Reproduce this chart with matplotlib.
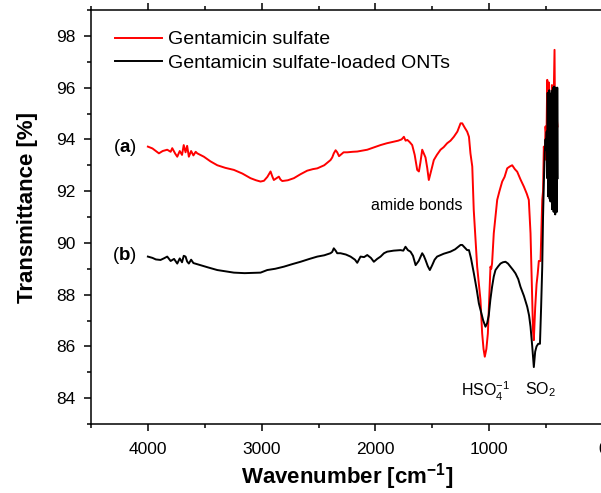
import matplotlib
matplotlib.use("Agg")
import matplotlib.pyplot as plt
from matplotlib.ticker import MultipleLocator

plt.rcParams["font.family"] = ["Liberation Sans", "DejaVu Sans"]
plt.rcParams["mathtext.fontset"] = "custom"
plt.rcParams["mathtext.rm"] = "Liberation Sans"
plt.rcParams["mathtext.it"] = "Liberation Sans:italic"
plt.rcParams["mathtext.bf"] = "Liberation Sans:bold"

# Espectro (a): Gentamicin sulfate
wn_a = [4000, 3960, 3930, 3903, 3870, 3830, 3800, 3786, 3760, 3742, 3720, 3700, 3685,
        3669, 3655, 3640, 3620, 3600, 3580, 3566, 3540, 3508, 3450, 3390, 3320, 3244,
        3170, 3098, 3050, 3010, 2980, 2950, 2922, 2905, 2893, 2870, 2849, 2835, 2819,
        2770, 2717, 2660, 2600, 2550, 2511, 2450, 2395, 2380, 2366, 2350, 2336, 2320,
        2307, 2280, 2248, 2200, 2160, 2120, 2072, 2020, 1955, 1900, 1838, 1800, 1770,
        1750, 1735, 1720, 1700, 1677, 1655, 1633, 1618, 1605, 1589, 1575, 1560, 1545,
        1531, 1515, 1501, 1487, 1460, 1428, 1400, 1370, 1340, 1311, 1280, 1252, 1237,
        1215, 1194, 1178, 1165, 1149, 1136, 1106, 1077, 1062, 1050, 1039, 1025, 1012,
        989, 982, 975, 960, 945, 930, 910, 886, 865, 842, 820, 798, 775, 754, 725, 695,
        670, 652, 637, 622, 615, 608, 596, 584, 574, 564, 549, 534, 527, 520, 512, 505,
        497, 490, 483, 476, 471, 467, 461, 456, 449, 441, 434, 426, 419, 412, 406, 400]
tr_a = [93.72, 93.65, 93.55, 93.46, 93.55, 93.60, 93.52, 93.66, 93.45, 93.33, 93.55,
        93.40, 93.78, 93.50, 93.75, 93.33, 93.55, 93.38, 93.52, 93.46, 93.40, 93.33,
        93.15, 93.00, 92.90, 92.82, 92.68, 92.50, 92.42, 92.37, 92.40, 92.55, 92.76,
        92.55, 92.43, 92.50, 92.56, 92.45, 92.39, 92.42, 92.50, 92.65, 92.79, 92.85,
        92.88, 93.00, 93.20, 93.30, 93.46, 93.58, 93.50, 93.35, 93.40, 93.50, 93.50,
        93.52, 93.53, 93.56, 93.60, 93.68, 93.78, 93.85, 93.91, 93.95, 94.00, 94.10,
        93.95, 93.98, 93.90, 93.78, 93.40, 92.82, 92.76, 93.10, 93.60, 93.45, 93.30,
        92.90, 92.43, 92.70, 92.95, 93.20, 93.40, 93.60, 93.70, 93.85, 93.95, 94.10,
        94.30, 94.62, 94.62, 94.45, 94.30, 94.10, 93.46, 92.95, 91.27, 89.08, 87.80,
        86.50, 85.90, 85.60, 85.90, 86.50, 89.08, 89.00, 89.20, 90.37, 91.00, 91.66,
        92.00, 92.37, 92.55, 92.88, 92.95, 93.00, 92.85, 92.75, 92.45, 92.17, 91.90,
        91.66, 90.37, 87.80, 86.60, 86.24, 87.50, 88.40, 88.80, 89.30, 89.30, 91.66,
        92.00, 93.72, 93.20, 94.50, 94.00, 96.30, 94.50, 96.20, 95.00, 94.00, 95.40,
        94.20, 96.10, 93.70, 95.50, 97.46, 93.00, 92.30, 94.80, 94.50]

# Espectro (b): Gentamicin sulfate-loaded ONTs
wn_b = [4000, 3960, 3930, 3889, 3860, 3830, 3800, 3770, 3742, 3720, 3700, 3685, 3669,
        3655, 3640, 3620, 3600, 3570, 3537, 3470, 3390, 3320, 3244, 3150, 3010, 2951,
        2880, 2805, 2730, 2658, 2580, 2511, 2450, 2395, 2380, 2366, 2350, 2336, 2307,
        2260, 2219, 2180, 2160, 2131, 2100, 2072, 2040, 2014, 1985, 1955, 1925, 1897,
        1840, 1780, 1755, 1736, 1715, 1692, 1670, 1647, 1620, 1589, 1575, 1560, 1540,
        1522, 1501, 1480, 1458, 1400, 1341, 1300, 1252, 1237, 1215, 1194, 1178, 1160,
        1135, 1110, 1091, 1070, 1053, 1033, 1018, 1004, 990, 975, 960, 945, 920, 901,
        880, 857, 835, 813, 790, 769, 745, 725, 695, 666, 650, 637, 622, 608, 596, 584,
        569, 554, 544, 534, 527, 520, 512, 505, 500, 495,
        490, 486, 483, 479, 476, 472, 469, 465, 462, 458, 455, 451, 448, 444, 441, 437,
        434, 430, 427, 423, 420, 416, 413, 409, 405, 402, 398]
tr_b = [89.47, 89.42, 89.36, 89.34, 89.40, 89.47, 89.30, 89.38, 89.20, 89.40, 89.25,
        89.50, 89.47, 89.28, 89.20, 89.35, 89.22, 89.18, 89.14, 89.05, 88.95, 88.90,
        88.85, 88.83, 88.85, 88.95, 89.00, 89.08, 89.18, 89.27, 89.38, 89.47, 89.52,
        89.60, 89.65, 89.79, 89.70, 89.60, 89.60, 89.55, 89.47, 89.35, 89.23, 89.47,
        89.45, 89.53, 89.42, 89.27, 89.38, 89.47, 89.60, 89.66, 89.70, 89.72, 89.70,
        89.85, 89.72, 89.66, 89.50, 89.14, 89.30, 89.60, 89.50, 89.34, 89.10, 88.95,
        89.14, 89.35, 89.47, 89.58, 89.66, 89.75, 89.92, 89.92, 89.82, 89.72, 89.72,
        89.40, 88.82, 88.20, 87.66, 87.30, 87.00, 86.76, 86.90, 87.20, 87.80, 88.30,
        88.70, 88.95, 89.10, 89.20, 89.25, 89.27, 89.20, 89.08, 88.95, 88.82, 88.60,
        88.30, 87.95, 87.53, 87.20, 86.76, 86.00, 85.20, 85.80, 86.00, 86.10, 86.10,
        87.50, 89.08, 91.00, 92.30, 93.50, 94.00, 93.60, 94.30,
        92.50, 95.80, 91.80, 95.60, 92.30, 95.90, 91.70, 95.50, 91.60, 95.70, 92.00,
        95.80, 91.30, 95.90, 91.40, 96.00, 91.20, 96.04, 91.40, 95.90, 91.10, 96.00,
        91.30, 95.80, 91.20, 96.00, 92.50]

legend_labels = ["Gentamicin sulfate", "Gentamicin sulfate-loaded ONTs"]

fig = plt.figure(figsize=(6.01, 4.93), dpi=100)
ax = fig.add_axes([91 / 601, 1 - 424 / 493, (603 - 91) / 601, (424 - 10) / 493])

ax.plot(wn_a, tr_a, color="#ff0000", lw=1.4, label=legend_labels[0])
ax.plot(wn_b, tr_b, color="black", lw=1.4, label=legend_labels[1])

ax.set_xlim(4500, 0)
ax.set_ylim(83, 99)
ax.xaxis.set_major_locator(MultipleLocator(1000))
ax.xaxis.set_minor_locator(MultipleLocator(500))
ax.yaxis.set_major_locator(MultipleLocator(2))
ax.yaxis.set_minor_locator(MultipleLocator(1))
ax.tick_params(which="major", direction="out", length=5, width=1.1, labelsize=12.5)
ax.tick_params(which="minor", direction="out", length=3, width=1.1)
ax.tick_params(axis="x", which="major", pad=8)
ax.tick_params(axis="y", which="major", pad=6)
ax.tick_params(axis="x", which="both", top=True, labeltop=False)
ax.spines["right"].set_visible(False)
for s in ["left", "bottom", "top"]:
    ax.spines[s].set_linewidth(1.1)

ax.set_xlabel("Wavenumber [cm$^{\\mathbf{-1}}$]", fontsize=16, fontweight="bold", labelpad=3)
ax.set_ylabel("Transmittance [%]", fontsize=16, fontweight="bold")
ax.yaxis.set_label_coords(-0.103, 0.522)

leg = ax.legend(loc="upper left", frameon=False, fontsize=14, handlelength=2.4,
                bbox_to_anchor=(0.025, 0.978), borderaxespad=0.2, labelspacing=0.3,
                handletextpad=0.3)

# etiquetas (a) y (b)
ax.text(4205, 93.67, "($\\mathbf{a}$)", fontsize=13.5, ha="center", va="center")
ax.text(4205, 89.53, "($\\mathbf{b}$)", fontsize=13.5, ha="center", va="center")

ax.text(1640, 91.43, "amide bonds", fontsize=11.5, ha="center", va="center")
ax.text(1030, 84.25, "HSO$_4^{-1}$", fontsize=11.5, ha="center", va="center")
ax.text(550, 84.32, "SO$_2$", fontsize=11.5, ha="center", va="center")

fig.savefig("out.png", dpi=100)
